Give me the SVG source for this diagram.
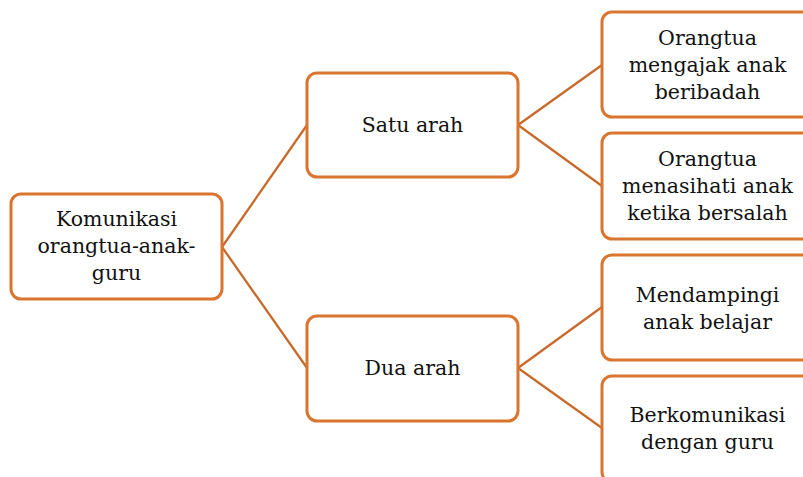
<svg xmlns="http://www.w3.org/2000/svg" width="803" height="477" viewBox="0 0 803 477">
<style>
.box{fill:#fff;stroke:#DA7530;stroke-width:3}
.ln{stroke:#C96A2B;stroke-width:2.3;fill:none}
.t{font-family:'DejaVu Serif','Liberation Serif',serif;font-size:20.5px;fill:#111;text-anchor:middle}
</style>
<rect width="803" height="477" fill="#fff"/>
<g id="connectors">
<path class="ln" d="M222 247 L307 125 M222 247 L307 368 M518 125 L602 65 M518 125 L602 186 M518 368 L602 307 M518 368 L602 428"/>
</g>
<g id="root">
<rect class="box" x="11" y="194" width="211" height="105" rx="10"/>
<text class="t" x="116.5" y="226">Komunikasi</text>
<text class="t" x="116.5" y="253">orangtua-anak-</text>
<text class="t" x="116.5" y="280">guru</text>
</g>
<g id="satu">
<rect class="box" x="307" y="73" width="211" height="104" rx="10"/>
<text class="t" x="412.5" y="132">Satu arah</text>
</g>
<g id="dua">
<rect class="box" x="307" y="316" width="211" height="105" rx="10"/>
<text class="t" x="412.5" y="375">Dua arah</text>
</g>
<g id="n1">
<rect class="box" x="602" y="12" width="211" height="105" rx="10"/>
<text class="t" x="707.5" y="45">Orangtua</text>
<text class="t" x="707.5" y="72">mengajak anak</text>
<text class="t" x="707.5" y="99">beribadah</text>
</g>
<g id="n2">
<rect class="box" x="602" y="133" width="211" height="106" rx="10"/>
<text class="t" x="707.5" y="166">Orangtua</text>
<text class="t" x="707.5" y="193">menasihati anak</text>
<text class="t" x="707.5" y="220">ketika bersalah</text>
</g>
<g id="n3">
<rect class="box" x="602" y="255" width="211" height="105" rx="10"/>
<text class="t" x="707.5" y="302">Mendampingi</text>
<text class="t" x="707.5" y="329">anak belajar</text>
</g>
<g id="n4">
<rect class="box" x="602" y="376" width="211" height="106" rx="10"/>
<text class="t" x="707.5" y="422">Berkomunikasi</text>
<text class="t" x="707.5" y="449">dengan guru</text>
</g>
</svg>
